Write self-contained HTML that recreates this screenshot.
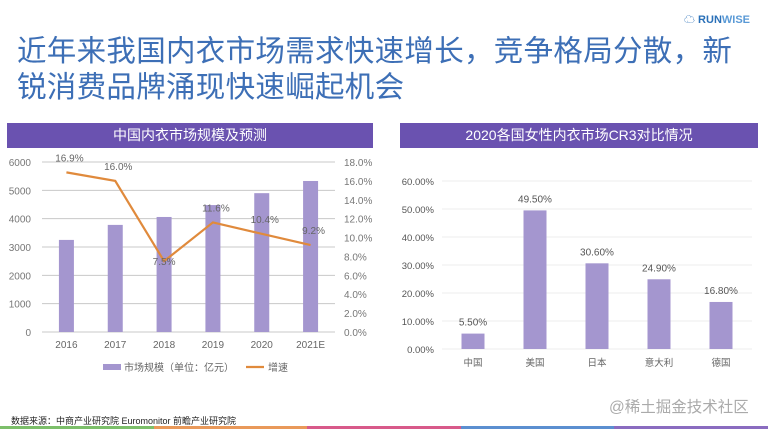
<!DOCTYPE html>
<html><head><meta charset="utf-8">
<style>
body{margin:0;width:768px;height:429px;background:#fff;overflow:hidden;position:relative;font-family:"Liberation Sans","Noto Sans CJK SC",sans-serif;}
.t{position:absolute;left:17px;top:34px;font-size:29.5px;line-height:36px;color:#3d6fb6;letter-spacing:0.3px;}
.bar{position:absolute;top:123px;height:25px;background:#6a52b0;color:#fff;font-size:14px;line-height:25px;text-align:center;}
svg{position:absolute;left:0;top:0}
</style></head><body>
<div style="position:absolute;left:684px;top:11px;font-size:11px;font-weight:bold;color:#2a70b8">☁ RUN<span style="color:#5a9ad6">WISE</span></div>
<div class="t">近年来我国内衣市场需求快速增长，竞争格局分散，新<br>锐消费品牌涌现快速崛起机会</div>
<div class="bar" style="left:7px;width:366px">中国内衣市场规模及预测</div>
<div class="bar" style="left:400px;width:358px">2020各国女性内衣市场CR3对比情况</div>
<div style="position:absolute;left:11px;top:414px;font-size:9px;color:#222">数据来源：中商产业研究院 Euromonitor 前瞻产业研究院</div>
<div style="position:absolute;left:609px;top:395px;font-size:15.5px;color:#aaa">@稀土掘金技术社区</div>
<div style="position:absolute;left:0;top:426px;width:768px;height:3px;display:flex">
<div style="flex:1;background:#7cbf6a"></div><div style="flex:1;background:#e9995a"></div><div style="flex:1;background:#d85a8a"></div><div style="flex:1;background:#5b8fd0"></div><div style="flex:1;background:#8a6cc0"></div></div>
<svg id="c" width="768" height="429"></svg>
<script>
const years=["2016","2017","2018","2019","2020","2021E"];
const sizes=[3250,3780,4060,4480,4900,5330];
const growth=[16.9,16.0,7.5,11.6,10.4,9.2];
const leftTicks=[0,1000,2000,3000,4000,5000,6000];
const rightTicks=[0,2,4,6,8,10,12,14,16,18];
const countries=["中国","美国","日本","意大利","德国"];
const cr3=[5.5,49.5,30.6,24.9,16.8];
const cr3Ticks=[0,10,20,30,40,50,60];
const svg=document.getElementById('c');
const NS="http://www.w3.org/2000/svg";
function mk(tag,attrs,txt){const e=document.createElementNS(NS,tag);for(const k in attrs)e.setAttribute(k,attrs[k]);if(txt!==undefined)e.textContent=txt;svg.appendChild(e);return e;}
const L0=42,L1=335,B=332,T=162;
const yL=v=>B-(v/6000)*(B-T);
const yR=v=>B-(v/18)*(B-T);
const xL=i=>L0+(L1-L0)*(i+0.5)/years.length;
leftTicks.forEach(v=>{
 const g=mk('line',{x1:L0,x2:L1,y1:yL(v),y2:yL(v),stroke:'#c8c8c8','stroke-width':1});
 
 const t=mk('text',{x:31,y:yL(v)+4,'text-anchor':'end','font-size':10,fill:'#777'},v);
 
});
rightTicks.forEach(v=>{
 const t=mk('text',{x:344,y:yR(v)+4,'font-size':10,fill:'#777'},v.toFixed(1)+'%');
 
});
years.forEach((y,i)=>{
 const r=mk('rect',{x:xL(i)-7.5,y:yL(sizes[i]),width:15,height:B-yL(sizes[i]),fill:'#a496cf'});
 
 const t=mk('text',{x:xL(i),y:348,'text-anchor':'middle','font-size':10,fill:'#666'},y);
 
});
const pts=growth.map((g,i)=>xL(i)+','+yR(g)).join(' ');
const pl=mk('polyline',{points:pts,fill:'none',stroke:'#e08a3c','stroke-width':2.2});

growth.forEach((g,i)=>{
 const t=mk('text',{x:xL(i)+(i==2?0:3),y:yR(g)-(i==2?-4:11),'text-anchor':'middle','font-size':10,fill:'#666'},g.toFixed(1)+'%');
 
});
let lg=mk('rect',{x:103,y:364,width:18,height:6,fill:'#a496cf'});

lg=mk('text',{x:124,y:371,'font-size':10,fill:'#666'},'市场规模（单位：亿元）');

lg=mk('line',{x1:246,x2:264,y1:367,y2:367,stroke:'#e08a3c','stroke-width':2.2});

lg=mk('text',{x:268,y:371,'font-size':10,fill:'#666'},'增速');

const R0=442,R1=752,RB=349,RT=181;
const yC=v=>RB-(v/60)*(RB-RT);
const xC=i=>R0+(R1-R0)*(i+0.5)/countries.length;
cr3Ticks.forEach(v=>{
 const g=mk('line',{x1:R0,x2:R1,y1:yC(v),y2:yC(v),stroke:'#eeeeee','stroke-width':1});
 
 const t=mk('text',{x:434,y:yC(v)+4,'text-anchor':'end','font-size':9.5,fill:'#555'},v.toFixed(2)+'%');
 
});
countries.forEach((c,i)=>{
 const r=mk('rect',{x:xC(i)-11.5,y:yC(cr3[i]),width:23,height:RB-yC(cr3[i]),fill:'#a496cf'});
 
 const v=mk('text',{x:xC(i),y:yC(cr3[i])-8,'text-anchor':'middle','font-size':10,fill:'#555'},cr3[i].toFixed(2)+'%');
 
 const t=mk('text',{x:xC(i),y:366,'text-anchor':'middle','font-size':9.5,fill:'#666'},c);
 
});
</script>
</body></html>
